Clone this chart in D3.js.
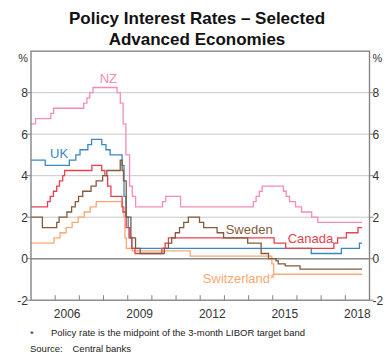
<!DOCTYPE html>
<html>
<head>
<meta charset="utf-8">
<script src="https://cdn.jsdelivr.net/npm/d3@7"></script>
<style>
  html, body { margin: 0; padding: 0; background: #fff; }
  svg { display: block; font-family: Arial, "Liberation Sans", Helvetica, sans-serif; }
</style>
</head>
<body>
<svg id="chart" width="392" height="354"></svg>
<script>
// Policy rate change points: [date of change, new rate in %]
const nz = [
  ["2005-01-01", 6.5], ["2005-03-10", 6.75], ["2005-10-27", 7.0], ["2005-12-08", 7.25],
  ["2007-03-08", 7.5], ["2007-04-26", 7.75], ["2007-06-07", 8.0], ["2007-07-26", 8.25],
  ["2008-07-24", 8.0], ["2008-09-11", 7.5], ["2008-10-23", 6.5], ["2008-12-04", 5.0],
  ["2009-01-29", 3.5], ["2009-03-12", 3.0], ["2009-04-30", 2.5], ["2010-06-10", 2.75],
  ["2010-07-29", 3.0], ["2011-03-10", 2.5], ["2014-03-13", 2.75], ["2014-04-24", 3.0],
  ["2014-06-12", 3.25], ["2014-07-24", 3.5], ["2015-06-11", 3.25], ["2015-07-23", 3.0],
  ["2015-09-10", 2.75], ["2015-12-10", 2.5], ["2016-03-10", 2.25], ["2016-08-11", 2.0],
  ["2016-11-10", 1.75]
];
const uk = [
  ["2005-01-01", 4.75], ["2005-08-04", 4.5], ["2006-08-03", 4.75], ["2006-11-09", 5.0],
  ["2007-01-11", 5.25], ["2007-05-10", 5.5], ["2007-07-05", 5.75], ["2007-12-06", 5.5],
  ["2008-02-07", 5.25], ["2008-04-10", 5.0], ["2008-10-08", 4.5], ["2008-11-06", 3.0],
  ["2008-12-04", 2.0], ["2009-01-08", 1.5], ["2009-02-05", 1.0], ["2009-03-05", 0.5],
  ["2016-08-04", 0.25], ["2017-11-02", 0.5], ["2018-08-02", 0.75]
];
const canada = [
  ["2005-01-01", 2.5], ["2005-09-07", 2.75], ["2005-10-18", 3.0], ["2005-12-06", 3.25],
  ["2006-01-24", 3.5], ["2006-03-07", 3.75], ["2006-04-25", 4.0], ["2006-05-24", 4.25],
  ["2007-07-10", 4.5], ["2007-12-04", 4.25], ["2008-01-22", 4.0], ["2008-03-04", 3.5],
  ["2008-04-22", 3.0], ["2008-10-08", 2.5], ["2008-10-21", 2.25], ["2008-12-09", 1.5],
  ["2009-01-20", 1.0], ["2009-03-03", 0.5], ["2009-04-21", 0.25], ["2010-06-01", 0.5],
  ["2010-07-20", 0.75], ["2010-09-08", 1.0], ["2015-01-21", 0.75], ["2015-07-15", 0.5],
  ["2017-07-12", 0.75], ["2017-09-06", 1.0], ["2018-01-17", 1.25], ["2018-07-11", 1.5]
];
const sweden = [
  ["2005-01-01", 2.0], ["2005-06-22", 1.5], ["2006-01-25", 1.75], ["2006-03-01", 2.0],
  ["2006-06-28", 2.25], ["2006-09-06", 2.5], ["2006-11-01", 2.75], ["2006-12-20", 3.0],
  ["2007-02-21", 3.25], ["2007-06-27", 3.5], ["2007-09-12", 3.75], ["2007-12-19", 4.0],
  ["2008-02-20", 4.25], ["2008-09-10", 4.75], ["2008-10-08", 4.25], ["2008-10-29", 3.75],
  ["2008-12-10", 2.0], ["2009-02-18", 1.0], ["2009-04-29", 0.5], ["2009-07-08", 0.25],
  ["2010-07-07", 0.5], ["2010-09-08", 0.75], ["2010-10-27", 1.0], ["2010-12-21", 1.25],
  ["2011-02-22", 1.5], ["2011-04-27", 1.75], ["2011-07-06", 2.0], ["2011-12-21", 1.75],
  ["2012-02-22", 1.5], ["2012-09-12", 1.25], ["2012-12-19", 1.0], ["2013-12-18", 0.75],
  ["2014-07-09", 0.25], ["2014-10-29", 0.0], ["2015-02-18", -0.1], ["2015-03-25", -0.25],
  ["2015-07-08", -0.35], ["2016-02-17", -0.5]
];
// Midpoint of the 3-month LIBOR target band
const switzerland = [
  ["2005-01-01", 0.75], ["2005-12-15", 1.0], ["2006-03-16", 1.25], ["2006-06-15", 1.5],
  ["2006-09-14", 1.75], ["2006-12-14", 2.0], ["2007-03-15", 2.25], ["2007-06-14", 2.5],
  ["2007-09-13", 2.75], ["2008-10-08", 2.5], ["2008-11-06", 2.0], ["2008-11-20", 1.0],
  ["2008-12-11", 0.5], ["2009-03-12", 0.375], ["2011-08-03", 0.125], ["2014-12-18", -0.25],
  ["2015-01-15", -0.75]
];
const lastDate = "2018-09-10";

const yTicks = [-2, 0, 2, 4, 6, 8];
const yearTicks = d3.range(2006, 2019);
const yearLabels = [2006, 2009, 2012, 2015, 2018];

const titleLines = ["Policy Interest Rates – Selected", "Advanced Economies"];
const footnote = "Policy rate is the midpoint of the 3-month LIBOR target band";

const series = [
  { name: "NZ", data: nz, color: "#f48cbb", label: ["2008-03-15", 8.47], anchor: "middle" },
  { name: "UK", data: uk, color: "#3a86c7", label: ["2005-10-15", 4.85], anchor: "start" },
  { name: "Switzerland*", data: switzerland, color: "#f9a872", label: ["2012-02-10", -1.17], anchor: "start" },
  { name: "Canada", data: canada, color: "#e8404f", label: ["2015-08-15", 0.76], anchor: "start" },
  { name: "Sweden", data: sweden, color: "#845a3d", label: ["2013-01-20", 1.19], anchor: "start" }
];

const parse = d3.timeParse("%Y-%m-%d");
const svg = d3.select("#chart");

const plotLeft = 31, plotRight = 369.5, plotTop = 51.2, plotBottom = 300.2;
const x = d3.scaleTime()
  .domain([parse("2005-01-01"), parse("2019-01-01")])
  .range([plotLeft, plotRight]);
const y = d3.scaleLinear().domain([-2, 10]).range([plotBottom, plotTop]);

const frameColor = "#858585";
const textColor = "#333";

// Title
svg.append("g").selectAll("text").data(titleLines).join("text")
  .attr("x", 197).attr("y", (d, i) => 24 + i * 21)
  .attr("text-anchor", "middle")
  .attr("font-size", 17).attr("font-weight", "bold").attr("fill", "#111")
  .text(d => d);

// Horizontal gridlines
svg.append("g").selectAll("line").data(yTicks.filter(v => v > 0)).join("line")
  .attr("x1", plotLeft).attr("x2", plotRight)
  .attr("y1", d => y(d)).attr("y2", d => y(d))
  .attr("stroke", "#c9c9c9").attr("stroke-width", 1);

// Zero line
svg.append("line")
  .attr("x1", plotLeft).attr("x2", plotRight).attr("y1", y(0)).attr("y2", y(0))
  .attr("stroke", "#8a8a8a").attr("stroke-width", 1.4);

// Series as step lines
const line = d3.line()
  .x(d => x(d[0])).y(d => y(d[1]))
  .curve(d3.curveStepAfter);

series.forEach(s => {
  const pts = s.data.map(d => [parse(d[0]), d[1]]);
  pts.push([parse(lastDate), s.data[s.data.length - 1][1]]);
  svg.append("path")
    .datum(pts)
    .attr("d", line)
    .attr("fill", "none")
    .attr("stroke", s.color)
    .attr("stroke-width", 1.3)
    .attr("stroke-linejoin", "miter");
});

// Series labels
svg.append("g").selectAll("text").data(series).join("text")
  .attr("x", d => x(parse(d.label[0])))
  .attr("y", d => y(d.label[1]))
  .attr("text-anchor", d => d.anchor)
  .attr("font-size", 13)
  .attr("fill", d => d.color)
  .text(d => d.name);

// Frame
svg.append("rect")
  .attr("x", plotLeft).attr("y", plotTop)
  .attr("width", plotRight - plotLeft).attr("height", plotBottom - plotTop)
  .attr("fill", "none").attr("stroke", frameColor).attr("stroke-width", 1.4);

// Year ticks along the bottom (inward)
svg.append("g").selectAll("line").data(yearTicks).join("line")
  .attr("x1", d => x(new Date(d, 0, 1))).attr("x2", d => x(new Date(d, 0, 1)))
  .attr("y1", plotBottom).attr("y2", plotBottom - 5)
  .attr("stroke", frameColor).attr("stroke-width", 1);

// Year labels centred on each year
svg.append("g").selectAll("text").data(yearLabels).join("text")
  .attr("x", d => x(new Date(d, 6, 1)))
  .attr("y", 318)
  .attr("text-anchor", "middle")
  .attr("font-size", 12).attr("fill", textColor)
  .text(d => d);

// Y tick marks (outward) on both sides
[[plotLeft, -4], [plotRight, 4]].forEach(([xp, dx]) => {
  svg.append("g").selectAll("line").data(yTicks).join("line")
    .attr("x1", xp).attr("x2", xp + dx)
    .attr("y1", d => y(d)).attr("y2", d => y(d))
    .attr("stroke", frameColor).attr("stroke-width", 1);
});

// Y tick labels
svg.append("g").selectAll("text").data(yTicks).join("text")
  .attr("x", 28).attr("y", d => y(d)).attr("dy", "0.36em")
  .attr("text-anchor", "end").attr("font-size", 12).attr("fill", textColor)
  .text(d => d);
svg.append("g").selectAll("text").data(yTicks).join("text")
  .attr("x", 372.5).attr("y", d => y(d)).attr("dy", "0.36em")
  .attr("text-anchor", "start").attr("font-size", 12).attr("fill", textColor)
  .text(d => d);

// Unit labels
svg.append("text").attr("x", 28).attr("y", 61.5).attr("text-anchor", "end")
  .attr("font-size", 11).attr("fill", textColor).text("%");
svg.append("text").attr("x", 372.5).attr("y", 61.5).attr("text-anchor", "start")
  .attr("font-size", 11).attr("fill", textColor).text("%");

// Notes
const notes = svg.append("g").attr("font-size", 9.5).attr("fill", "#222");
notes.append("text").attr("x", 30).attr("y", 337).text("*");
notes.append("text").attr("x", 51).attr("y", 336).text(footnote);
notes.append("text").attr("x", 30).attr("y", 352).text("Source:");
notes.append("text").attr("x", 72.5).attr("y", 352).text("Central banks");
</script>
</body>
</html>
